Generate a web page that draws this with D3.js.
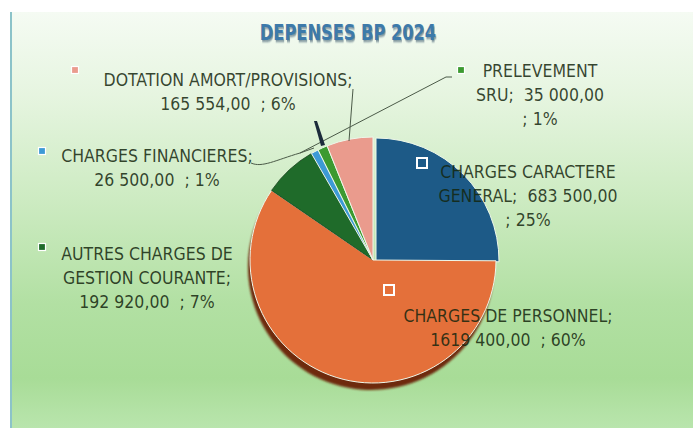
<!DOCTYPE html>
<html>
<head>
<meta charset="utf-8">
<script src="https://cdn.jsdelivr.net/npm/d3@7"></script>
<style>
  body { margin: 0; background: #fff; }
  svg { display: block; }
  text { white-space: pre; }
</style>
</head>
<body>
<svg id="chart"></svg>
<script>
// Dépenses BP 2024 - camembert
const categories = [
	'CHARGES CARACTERE GENERAL',
	'CHARGES DE PERSONNEL',
	'AUTRES CHARGES DE GESTION COURANTE',
	'CHARGES FINANCIERES',
	'PRELEVEMENT SRU',
	'DOTATION AMORT/PROVISIONS'
];
const values = [683500, 1619400, 192920, 26500, 35000, 165554];
const colors = ['#1d5a87', '#e4703a', '#1f6b2a', '#3d9ad6', '#3c9a30', '#ea9b8d'];

// texte des étiquettes, ligne par ligne
const labelLines = [
	['CHARGES CARACTERE', 'GENERAL;  683 500,00', '; 25%'],
	['CHARGES DE PERSONNEL;', '1619 400,00  ; 60%'],
	['AUTRES CHARGES DE', 'GESTION COURANTE;', '192 920,00  ; 7%'],
	['CHARGES FINANCIERES;', '26 500,00  ; 1%'],
	['PRELEVEMENT', 'SRU;  35 000,00', '; 1%'],
	['DOTATION AMORT/PROVISIONS;', '165 554,00  ; 6%']
];

// placement des étiquettes (x centre, 1re ligne de base, clé)
const labelPos = [
	{ x: 528, y: 178, kx: 422, ky: 163, inside: true },
	{ x: 508, y: 322, kx: 389, ky: 290, inside: true },
	{ x: 147, y: 260, kx: 42, ky: 247 },
	{ x: 157, y: 162, kx: 42, ky: 151 },
	{ x: 540, y: 77, kx: 461, ky: 70 },
	{ x: 228, y: 86, kx: 75, ky: 70 }
];

const width = 693, height = 428;
const cx = 373, cy = 260, radius = 123;
const font = '"DejaVu Sans Condensed", "Liberation Sans", sans-serif';

const svg = d3.select('#chart')
	.attr('width', width)
	.attr('height', height);

const defs = svg.append('defs');
const grad = defs.append('linearGradient')
	.attr('id', 'fond')
	.attr('x1', 0).attr('y1', 0).attr('x2', 0).attr('y2', 1);
[['0%', '#f5fbf3'], ['20%', '#e6f5e0'], ['45%', '#cdebc2'], ['70%', '#b2e0a3'], ['88%', '#a8dc97'], ['100%', '#b9e5ad']]
	.forEach(s => grad.append('stop').attr('offset', s[0]).attr('stop-color', s[1]));

defs.append('filter').attr('id', 'flou')
	.append('feGaussianBlur').attr('stdDeviation', 0.8);

// fond
svg.append('rect')
	.attr('x', 11).attr('y', 12)
	.attr('width', width - 11).attr('height', height - 12)
	.attr('fill', 'url(#fond)');
svg.append('line')
	.attr('x1', 11).attr('y1', 12).attr('x2', 11).attr('y2', height)
	.attr('stroke', '#8cc3c9').attr('stroke-width', 2);

// titre (resserré horizontalement)
const title = svg.append('g')
	.attr('transform', 'translate(348,40) scale(0.82,1)')
	.attr('font-family', font).attr('font-weight', 'bold')
	.attr('font-size', 22).attr('text-anchor', 'middle');
title.append('text').attr('x', 1.2).attr('y', 1.5).attr('fill', '#1d3c58')
	.attr('opacity', 0.55).attr('filter', 'url(#flou)').text('DEPENSES BP 2024');
title.append('text').attr('x', 0).attr('y', 0).attr('fill', '#3d7aaa').text('DEPENSES BP 2024');

// camembert
const pie = d3.pie().sort(null).value(d => d)(values);
const arc = d3.arc().innerRadius(0).outerRadius(radius);

const g = svg.append('g').attr('transform', `translate(${cx},${cy})`);

// ombre sous la part orange
g.append('path')
	.attr('d', arc(pie[1]))
	.attr('transform', 'translate(-2,7)')
	.attr('fill', '#6e2b11')
	.attr('filter', 'url(#flou)');

g.selectAll('path.part')
	.data(pie)
	.enter()
	.append('path')
	.attr('class', 'part')
	.attr('d', arc)
	.attr('transform', (d, i) => i === 0 ? 'translate(3,1)' : null)
	.attr('fill', (d, i) => colors[i])
	.attr('stroke', (d, i) => i === 2 ? '#16401c' : '#eef7ea')
	.attr('stroke-width', (d, i) => i === 2 ? 0.8 : 1);

// lignes de rappel
const leaders = svg.append('g').attr('fill', 'none').attr('stroke', '#4b5a48').attr('stroke-width', 1);
leaders.append('path').attr('d', 'M353,89 L349,141');
leaders.append('path').attr('d', 'M452,77 L446,77 L300,153');
leaders.append('path').attr('d', 'M251,163 C262,168 276,160 300,153 L314,148');
svg.append('path')
	.attr('d', 'M314,121 L317,121 L325,145 L321,146 Z')
	.attr('fill', '#1c2b3b');

// clés de légende
svg.selectAll('rect.cle')
	.data(labelPos)
	.enter()
	.append('rect')
	.attr('class', 'cle')
	.attr('x', d => d.kx - (d.inside ? 5 : 3.5))
	.attr('y', d => d.ky - (d.inside ? 5 : 3.5))
	.attr('width', d => d.inside ? 10 : 7)
	.attr('height', d => d.inside ? 10 : 7)
	.attr('fill', (d, i) => colors[i])
	.attr('stroke', '#ffffff')
	.attr('stroke-width', d => d.inside ? 2 : 1.2);

// étiquettes
const labels = svg.selectAll('text.etiquette')
	.data(labelLines)
	.enter()
	.append('text')
	.attr('class', 'etiquette')
	.attr('font-family', font)
	.attr('font-size', 17.5)
	.attr('text-anchor', 'middle')
	.attr('fill', 'rgba(20,38,14,0.85)');

labels.each(function(lines, i) {
	const t = d3.select(this);
	lines.forEach((line, j) => {
		t.append('tspan')
			.attr('x', labelPos[i].x)
			.attr('y', labelPos[i].y + j * 24)
			.text(line);
	});
});
</script>
</body>
</html>
